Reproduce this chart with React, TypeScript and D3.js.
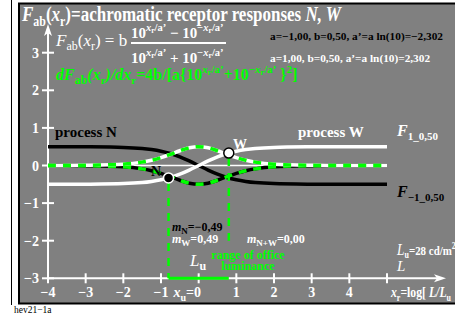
import React from "react";
import * as d3 from "d3";

const xs = [-4, -3, -2, -1.5, -1.25, -1, -0.75, -0.5, -0.25, 0, 0.25, 0.5, 0.75, 1, 1.25, 1.5, 2, 3, 4, 5];
const processW = [-0.5, -0.4975, -0.482, -0.453, -0.424, -0.381, -0.318, -0.231, -0.122, 0, 0.122, 0.231, 0.318, 0.381, 0.424, 0.453, 0.482, 0.4975, 0.5, 0.5];
const processN = [0.5, 0.4975, 0.482, 0.453, 0.424, 0.381, 0.318, 0.231, 0.122, 0, -0.122, -0.231, -0.318, -0.381, -0.424, -0.453, -0.482, -0.4975, -0.5, -0.5];
const slopeW = [0.001, 0.005, 0.035, 0.09, 0.14, 0.21, 0.298, 0.393, 0.47, 0.5, 0.47, 0.393, 0.298, 0.21, 0.14, 0.09, 0.035, 0.005, 0.001, 0];
const slopeN = [-0.001, -0.005, -0.035, -0.09, -0.14, -0.21, -0.298, -0.393, -0.47, -0.5, -0.47, -0.393, -0.298, -0.21, -0.14, -0.09, -0.035, -0.005, -0.001, 0];

const xTicks = [-4, -3, -2, -1, 0, 1, 2, 3, 4, 5];
const xTickLabels = ["−4", "−3", "−2", "−1", "", "1", "2", "3", "4", ""];
const yTicks = [-3, -2, -1, 0, 1, 2, 3];
const yTickLabels = ["−3", "−2", "−1", "0", "1", "2", "3"];

const markX = [-0.8, 0.8];
const markY = [-0.33, 0.33];
const markLow = [-3, -2];

const GREEN = "#00ff00";
const FONT = "'Liberation Serif', 'DejaVu Serif', serif";

export default function App() {
  const x = d3.scaleLinear().domain([-4, 5]).range([48, 387]);
  const y = d3.scaleLinear().domain([-3, 3]).range([278.3, 52.7]);
  const mk = (vals: number[]) =>
    d3
      .line<number>()
      .x((_, i) => x(xs[i]))
      .y((v) => y(v))
      .curve(d3.curveCatmullRom)(vals) as string;

  const sub = (t: string, size = 11, dy = 5) => (
    <tspan fontSize={size} dy={dy}>{t}</tspan>
  );

  return (
    <svg width={455} height={316} style={{ position: "absolute", left: 0, top: 0 }} fontFamily={FONT}>
      <rect x={0} y={0} width={455} height={316} fill="#ffffff" />
      <line x1={11.5} y1={0} x2={11.5} y2={305} stroke="#000" strokeWidth={1} />
      <rect x={19} y={3.5} width={445} height={300} fill="#808080" stroke="#000" strokeWidth={2} />
      <text x={14} y={313} fontSize={9.5} fill="#000">hev21−1a</text>

      {/* Title */}
      <g transform="translate(22,21) scale(0.85,1)">
        <text x={0} y={0} fontSize={20} fontWeight="bold" fill="#fff">
          <tspan fontStyle="italic">F</tspan>
          <tspan fontSize={14} dy={5}>ab</tspan>
          <tspan dy={-5}>(</tspan>
          <tspan fontStyle="italic">x</tspan>
          <tspan fontSize={14} dy={5}>r</tspan>
          <tspan dy={-5}>)=achromatic receptor responses </tspan>
          <tspan fontStyle="italic">N, W</tspan>
        </text>
      </g>

      {/* Formula */}
      <text x={56} y={46} fontSize={17} fill="#fff">
        <tspan fontStyle="italic">F</tspan>
        {sub("ab", 12, 4)}
        <tspan dy={-4}>(</tspan>
        <tspan fontStyle="italic">x</tspan>
        {sub("r", 12, 4)}
        <tspan dy={-4}>) = b</tspan>
      </text>
      <text x={131} y={38} fontSize={15} fontWeight="bold" fill="#fff">
        10<tspan fontSize={10.5} dy={-7} fontStyle="italic">x</tspan>
        <tspan fontSize={7.5} dy={2}>r</tspan>
        <tspan fontSize={10.5} dy={-2}>/a’</tspan>
        <tspan dy={7}> − 10</tspan>
        <tspan fontSize={10.5} dy={-7}>−</tspan>
        <tspan fontSize={10.5} fontStyle="italic">x</tspan>
        <tspan fontSize={7.5} dy={2}>r</tspan>
        <tspan fontSize={10.5} dy={-2}>/a’</tspan>
      </text>
      <line x1={131} x2={226} y1={43} y2={43} stroke="#fff" strokeWidth={2} />
      <text x={131} y={63} fontSize={15} fontWeight="bold" fill="#fff">
        10<tspan fontSize={10.5} dy={-7} fontStyle="italic">x</tspan>
        <tspan fontSize={7.5} dy={2}>r</tspan>
        <tspan fontSize={10.5} dy={-2}>/a’</tspan>
        <tspan dy={7}> + 10</tspan>
        <tspan fontSize={10.5} dy={-7}>−</tspan>
        <tspan fontSize={10.5} fontStyle="italic">x</tspan>
        <tspan fontSize={7.5} dy={2}>r</tspan>
        <tspan fontSize={10.5} dy={-2}>/a’</tspan>
      </text>
      <text x={270} y={40} fontSize={11.3} fontWeight="bold" fill="#000">a=−1,00, b=0,50, a’=a ln(10)=−2,302</text>
      <text x={270} y={62} fontSize={11.3} fontWeight="bold" fill="#fff">a=1,00, b=0,50, a’=a ln(10)=2,302</text>
      <text x={56} y={80} fontSize={16} fontWeight="bold" fill={GREEN}>
        <tspan fontStyle="italic">dF</tspan>
        {sub("ab", 12, 4)}
        <tspan dy={-4} fontStyle="italic">(x</tspan>
        {sub("r", 11, 4)}
        <tspan dy={-4} fontStyle="italic">)/dx</tspan>
        {sub("r", 11, 4)}
        <tspan dy={-4}>=4b/[a{"{"}10</tspan>
        <tspan fontSize={11} dy={-7} fontStyle="italic">x</tspan>
        <tspan fontSize={8} dy={2}>r</tspan>
        <tspan fontSize={11} dy={-2}>/a’</tspan>
        <tspan dy={7}>+10</tspan>
        <tspan fontSize={11} dy={-7}>−</tspan>
        <tspan fontSize={11} fontStyle="italic">x</tspan>
        <tspan fontSize={8} dy={2}>r</tspan>
        <tspan fontSize={11} dy={-2}>/a’</tspan>
        <tspan dy={7}> {"}"}</tspan>
        <tspan fontSize={11} dy={-7}>2</tspan>
        <tspan dy={7}>]</tspan>
      </text>

      {/* Axes */}
      <line x1={x(-4)} x2={441} y1={y(-3)} y2={y(-3)} stroke="#fff" strokeWidth={2} />
      <path d={`M446,${y(-3)} L434,${y(-3) - 4} L437,${y(-3)} L434,${y(-3) + 4} Z`} fill="#fff" />
      <line x1={x(-4)} x2={x(-4)} y1={y(-3)} y2={30} stroke="#fff" strokeWidth={2} />
      <path d={`M${x(-4)},24 L${x(-4) - 4},36 L${x(-4)},33 L${x(-4) + 4},36 Z`} fill="#fff" />
      {xTicks.map((t, i) => (
        <g key={"xt" + i}>
          <line x1={x(t)} x2={x(t)} y1={y(-3) - 5} y2={y(-3) + 5} stroke="#fff" strokeWidth={2} />
          <text x={x(t)} y={297} fontSize={14} fontWeight="bold" fill="#fff" textAnchor="middle">{xTickLabels[i]}</text>
        </g>
      ))}
      <text x={201} y={297} fontSize={14} fontWeight="bold" fill="#fff" textAnchor="end">
        <tspan fontStyle="italic">x</tspan>
        <tspan fontSize={10} dy={4}>u</tspan>
        <tspan dy={-4}>=0</tspan>
      </text>
      {yTicks.map((t, i) => (
        <g key={"yt" + i}>
          <line x1={x(-4) - 6} x2={x(-4) + 6} y1={y(t)} y2={y(t)} stroke="#fff" strokeWidth={2} />
          <text x={39} y={y(t) + 5} fontSize={14} fontWeight="bold" fill="#fff" textAnchor="end">{yTickLabels[i]}</text>
        </g>
      ))}

      {/* zero line */}
      <line x1={x(-4)} x2={x(5)} y1={y(0)} y2={y(0)} stroke="#fff" strokeWidth={1.5} />

      {/* Curves */}
      <path d={mk(processN)} fill="none" stroke="#000" strokeWidth={3.5} />
      <path d={mk(processW)} fill="none" stroke="#fff" strokeWidth={3.5} />
      <path d={mk(slopeN)} fill="none" stroke="#000" strokeWidth={3.5} />
      <path d={mk(slopeN)} fill="none" stroke={GREEN} strokeWidth={3.5} strokeDasharray="8,7" />
      <path d={mk(slopeW)} fill="none" stroke="#fff" strokeWidth={3.5} />
      <path d={mk(slopeW)} fill="none" stroke={GREEN} strokeWidth={3.5} strokeDasharray="8,7" />

      {/* range verticals */}
      {markX.map((m, i) => (
        <line key={"v" + i} x1={x(m)} x2={x(m)} y1={y(markY[i]) + 5} y2={y(markLow[i])} stroke={GREEN} strokeWidth={2.5} strokeDasharray="8,7" />
      ))}
      <line x1={x(markX[0])} x2={x(markX[1])} y1={y(-3)} y2={y(-3)} stroke={GREEN} strokeWidth={3} />

      <circle cx={x(markX[0])} cy={y(markY[0])} r={5} fill="#000" stroke="#fff" strokeWidth={1.5} />
      <circle cx={x(markX[1])} cy={y(markY[1])} r={5} fill="#fff" stroke="#000" strokeWidth={1.5} />
      <text x={151} y={176} fontSize={14} fontWeight="bold" fill="#000">N</text>
      <text x={233} y={149} fontSize={14} fontWeight="bold" fill="#fff">W</text>

      <text x={55} y={137} fontSize={15} fontWeight="bold" fill="#000">process N</text>
      <text x={298} y={137} fontSize={15} fontWeight="bold" fill="#fff">process W</text>
      <text x={397} y={136} fontSize={16} fontWeight="bold" fill="#fff">
        <tspan fontStyle="italic">F</tspan>
        <tspan fontSize={11} dy={4}>1_0,50</tspan>
      </text>
      <text x={397} y={197} fontSize={16} fontWeight="bold" fill="#000">
        <tspan fontStyle="italic">F</tspan>
        <tspan fontSize={11} dy={4}>−1_0,50</tspan>
      </text>

      {/* bottom annotations */}
      <text x={172} y={231} fontSize={12} fontWeight="bold" fill="#000">
        <tspan fontStyle="italic">m</tspan>
        <tspan fontSize={9} dy={3}>N</tspan>
        <tspan dy={-3}>=−0,49</tspan>
      </text>
      <text x={172} y={243} fontSize={12} fontWeight="bold" fill="#fff">
        <tspan fontStyle="italic">m</tspan>
        <tspan fontSize={9} dy={3}>W</tspan>
        <tspan dy={-3}>=0,49</tspan>
      </text>
      <text x={247} y={243} fontSize={12} fontWeight="bold" fill="#fff">
        <tspan fontStyle="italic">m</tspan>
        <tspan fontSize={9} dy={3}>N+W</tspan>
        <tspan dy={-3}>=0,00</tspan>
      </text>
      <text x={190} y={266} fontSize={17} fill="#fff">
        <tspan fontStyle="italic">L</tspan>
        <tspan fontSize={12} dy={4} fontWeight="bold">u</tspan>
      </text>
      <text x={248} y={259} fontSize={12} fontWeight="bold" fill={GREEN} textAnchor="middle">range of office</text>
      <text x={248} y={270} fontSize={12} fontWeight="bold" fill={GREEN} textAnchor="middle">luminance</text>
      <g transform="translate(397,255) scale(0.84,1)">
        <text x={0} y={0} fontSize={13} fontWeight="bold" fill="#fff">
          <tspan fontStyle="italic" fontWeight="normal" fontSize={16}>L</tspan>
          <tspan fontSize={9.5} dy={3}>u</tspan>
          <tspan dy={-3}>=28 cd/m</tspan>
          <tspan fontSize={9.5} dy={-6}>2</tspan>
        </text>
      </g>
      <text x={397} y={271} fontSize={15} fontStyle="italic" fill="#fff">L</text>
      <g transform="translate(391,297) scale(0.84,1)">
        <text x={0} y={0} fontSize={14} fontWeight="bold" fill="#fff">
          <tspan fontStyle="italic">x</tspan>
          <tspan fontSize={9.5} dy={4}>r</tspan>
          <tspan dy={-4}>=log[ </tspan>
          <tspan fontStyle="italic">L/L</tspan>
          <tspan fontSize={9.5} dy={4}>u</tspan>
        </text>
      </g>
    </svg>
  );
}
